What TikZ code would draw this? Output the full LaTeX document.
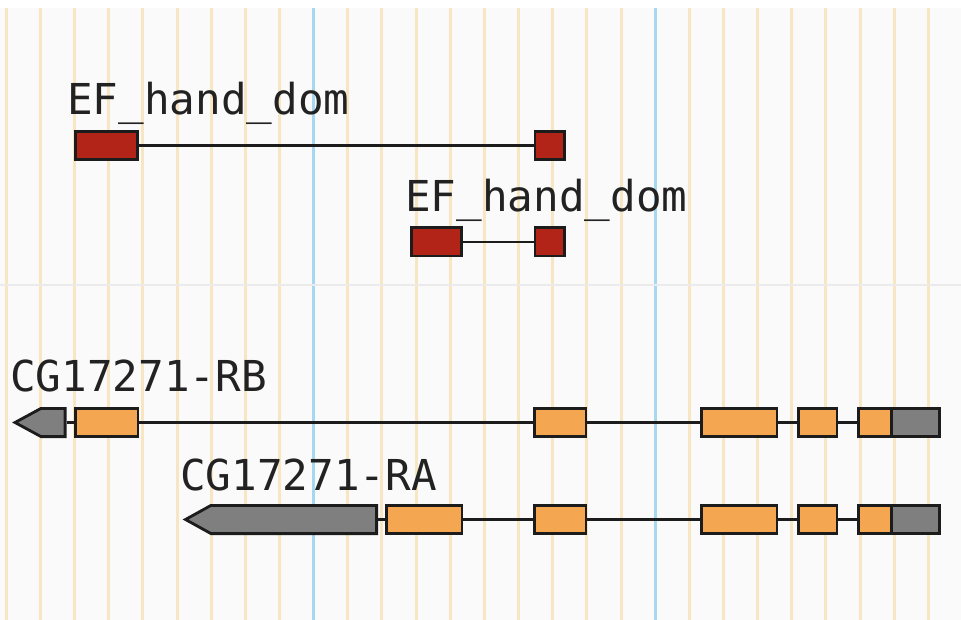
\documentclass[tikz,border=0pt]{standalone}
\usepackage{fontspec}
\newfontfamily\trackfont{DejaVu Sans Mono}
\definecolor{exonred}{HTML}{B22318}
\definecolor{exonorange}{HTML}{F4A750}
\definecolor{utrgray}{HTML}{7F7F7F}
\definecolor{edge}{HTML}{1C1C1C}
\definecolor{gridorange}{HTML}{F8E5C2}
\definecolor{gridblue}{HTML}{A6D8F2}
\definecolor{panelbg}{HTML}{FAFAFA}
\definecolor{divider}{HTML}{EBEBEB}
\definecolor{labeltext}{HTML}{222222}
\tikzset{
  exon/.style={draw=edge, line width=2.8pt, rectangle, inner sep=0pt, outer sep=0pt},
  intron/.style={draw=edge, line width=2.8pt},
  utrarrow/.style={draw=edge, fill=utrgray, line width=2.8pt, line join=miter},
  tracklabel/.style={anchor=base west, inner sep=0pt, text=labeltext, font=\trackfont\fontsize{42.6}{43}\selectfont},
  gridline/.style={line width=3pt, draw=gridorange},
  gridmark/.style={line width=3pt, draw=gridblue}
}
\begin{document}
\begin{tikzpicture}[x=1pt, y=-1pt]
\useasboundingbox (0,0) rectangle (961,620);
\fill[white] (0,0) rectangle (961,620);
\fill[panelbg] (0,8) rectangle (961,620);
% grid
\foreach \k in {0,...,27}{
  \pgfmathsetmacro{\gx}{6.3+34.15*\k}
  \ifnum\k=9
    \draw[gridmark] (\gx,8) -- (\gx,620);
  \else\ifnum\k=19
    \draw[gridmark] (\gx,8) -- (\gx,620);
  \else
    \draw[gridline] (\gx,8) -- (\gx,620);
  \fi\fi
}
\draw[divider, line width=1.5pt] (0,285) -- (961,285);

% EF_hand_dom 1
\node[tracklabel] (lab1) at (67,115) {EF\_hand\_dom};
\node[exon, fill=exonred, minimum width=62.2pt, minimum height=28.2pt] (ef1a) at (106.5,145.5) {};
\node[exon, fill=exonred, minimum width=29.7pt, minimum height=28.2pt] (ef1b) at (549.75,145.5) {};
\draw[intron] (ef1a.east) -- (ef1b.west);

% EF_hand_dom 2
\node[tracklabel] (lab2) at (405,211.5) {EF\_hand\_dom};
\node[exon, fill=exonred, minimum width=50.2pt, minimum height=28.2pt] (ef2a) at (436.5,242) {};
\node[exon, fill=exonred, minimum width=29.7pt, minimum height=28.2pt] (ef2b) at (549.75,242) {};
\draw[intron] (ef2a.east) -- (ef2b.west);

% CG17271-RB
\node[tracklabel] (lab3) at (10,391) {CG17271-RB};
\draw[utrarrow] (15,422.5) -- (41,408.4) -- (65.1,408.4) -- (65.1,436.6) -- (41,436.6) -- cycle;
\coordinate (rb0) at (66.5,422.5);
\node[exon, fill=exonorange, minimum width=62.5pt, minimum height=28.2pt] (rb1) at (106.65,422.5) {};
\node[exon, fill=exonorange, minimum width=51.2pt, minimum height=28.2pt] (rb2) at (560.3,422.5) {};
\node[exon, fill=exonorange, minimum width=75.5pt, minimum height=28.2pt] (rb3) at (739.15,422.5) {};
\node[exon, fill=exonorange, minimum width=38.2pt, minimum height=28.2pt] (rb4) at (817.8,422.5) {};
\node[exon, fill=exonorange, minimum width=33pt, minimum height=28.2pt] (rb5) at (875.2,422.5) {};
\node[exon, fill=utrgray, minimum width=47.6pt, minimum height=28.2pt] (rb6) at (915.5,422.5) {};
\draw[intron] (rb0) -- (rb1.west);
\draw[intron] (rb1.east) -- (rb2.west);
\draw[intron] (rb2.east) -- (rb3.west);
\draw[intron] (rb3.east) -- (rb4.west);
\draw[intron] (rb4.east) -- (rb5.west);

% CG17271-RA
\node[tracklabel] (lab4) at (180,490) {CG17271-RA};
\draw[utrarrow] (185.5,519.5) -- (211,505.4) -- (376.6,505.4) -- (376.6,533.6) -- (211,533.6) -- cycle;
\coordinate (ra0) at (378,519.5);
\node[exon, fill=exonorange, minimum width=75.5pt, minimum height=28.2pt] (ra1) at (424.15,519.5) {};
\node[exon, fill=exonorange, minimum width=51.2pt, minimum height=28.2pt] (ra2) at (560.3,519.5) {};
\node[exon, fill=exonorange, minimum width=75.5pt, minimum height=28.2pt] (ra3) at (739.15,519.5) {};
\node[exon, fill=exonorange, minimum width=38.2pt, minimum height=28.2pt] (ra4) at (817.8,519.5) {};
\node[exon, fill=exonorange, minimum width=33pt, minimum height=28.2pt] (ra5) at (875.2,519.5) {};
\node[exon, fill=utrgray, minimum width=47.6pt, minimum height=28.2pt] (ra6) at (915.5,519.5) {};
\draw[intron] (ra0) -- (ra1.west);
\draw[intron] (ra1.east) -- (ra2.west);
\draw[intron] (ra2.east) -- (ra3.west);
\draw[intron] (ra3.east) -- (ra4.west);
\draw[intron] (ra4.east) -- (ra5.west);
\end{tikzpicture}
\end{document}
